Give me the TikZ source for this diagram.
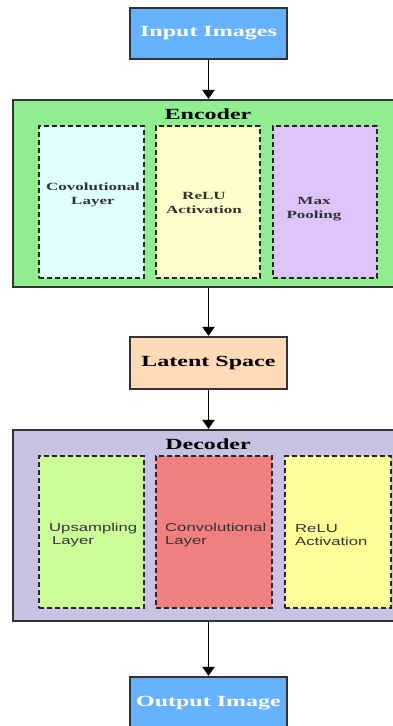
\documentclass[tikz,border=0pt]{standalone}
\usepackage{fontspec}
\usetikzlibrary{arrows.meta}
\newfontfamily\serifw[FakeStretch=1.55]{Liberation Serif}
\newfontfamily\sansw[FakeStretch=1.45]{Liberation Sans}
\definecolor{cblue}{HTML}{66B2FF}
\definecolor{cgreen}{HTML}{90EE90}
\definecolor{ccyan}{HTML}{E0FFFF}
\definecolor{ccream}{HTML}{FFFFCC}
\definecolor{clilac}{HTML}{DDC4FA}
\definecolor{cpeach}{HTML}{FFDAB9}
\definecolor{cdec}{HTML}{C9C1E1}
\definecolor{clime}{HTML}{CCFF99}
\definecolor{ccoral}{HTML}{F08080}
\definecolor{cyel}{HTML}{FFFF99}
\definecolor{cline}{HTML}{333333}
\tikzset{
  mainbox/.style={draw=cline, line width=2.2pt, rectangle, inner sep=0pt,
    font=\serifw\bfseries\fontsize{15.5}{17}\selectfont},
  container/.style={draw=cline, line width=2.2pt, rectangle, inner sep=0pt},
  layerbox/.style={draw=black!85, line width=2.4pt, dash pattern=on 5pt off 3pt,
    rectangle, inner sep=0pt},
  enctext/.style={align=center, text=cline, inner sep=0pt,
    font=\serifw\bfseries\fontsize{11}{13.5}\selectfont},
  dectext/.style={align=left, text=cline, inner sep=0pt, anchor=west,
    font=\sansw\fontsize{11.5}{12.5}\selectfont},
  title/.style={inner sep=0pt, font=\serifw\bfseries\fontsize{15.5}{17}\selectfont},
  flow/.style={draw=black, line width=1.9pt, -{Triangle[width=12pt,length=9pt]}}
}
\begin{document}
\begin{tikzpicture}[x=1pt,y=-1pt]
\useasboundingbox (0,0) rectangle (393,726);
% main boxes
\node[mainbox, fill=cblue, text=white, minimum width=157pt, minimum height=51pt]
  (input) at (208.5,33.5) {Input Images};
\node[container, fill=cgreen, minimum width=394pt, minimum height=187pt]
  (enc) at (210,193.5) {};
\node[title] (enctitle) at (208,114) {Encoder};
\node[layerbox, fill=ccyan, minimum width=105pt, minimum height=152pt]
  (conv1) at (91.5,202) {};
\node[layerbox, fill=ccream, minimum width=104pt, minimum height=152pt]
  (relu1) at (208,202) {};
\node[layerbox, fill=clilac, minimum width=104pt, minimum height=152pt]
  (pool) at (325,202) {};
\node[enctext] (conv1t) at (93,195) {Covolutional\\Layer};
\node[enctext] (relu1t) at (204,203) {ReLU\\Activation};
\node[enctext] (poolt) at (314,209) {Max\\Pooling};
\node[mainbox, fill=cpeach, text=black, minimum width=157pt, minimum height=52pt]
  (latent) at (208.5,363) {Latent Space};
\node[container, fill=cdec, minimum width=394pt, minimum height=191pt]
  (dec) at (210,525.5) {};
\node[title] (dectitle) at (208,444) {Decoder};
\node[layerbox, fill=clime, minimum width=105pt, minimum height=152pt]
  (up) at (91.5,532) {};
\node[layerbox, fill=ccoral, minimum width=116pt, minimum height=152pt]
  (conv2) at (214,532) {};
\node[layerbox, fill=cyel, minimum width=106pt, minimum height=152pt]
  (relu2) at (338,532) {};
\node[dectext] (upt) at (49,535) {Upsampling\\\hspace*{3pt}Layer};
\node[dectext] (conv2t) at (165,535) {Convolutional\\Layer};
\node[dectext] (relu2t) at (295,535) {ReLU\\Activation};
\node[mainbox, fill=cblue, text=white, minimum width=157pt, minimum height=60pt]
  (output) at (208.5,707) {};
\node[mainbox, draw=none, text=white] (outputt) at (208.5,703) {Output Image};
% connectors
\draw[flow] (input.south) -- (input.south |- enc.north);
\draw[flow] (input.south |- enc.south) -- (latent.north);
\draw[flow] (latent.south) -- (latent.south |- dec.north);
\draw[flow] (latent.south |- dec.south) -- (output.north);
\end{tikzpicture}
\end{document}
